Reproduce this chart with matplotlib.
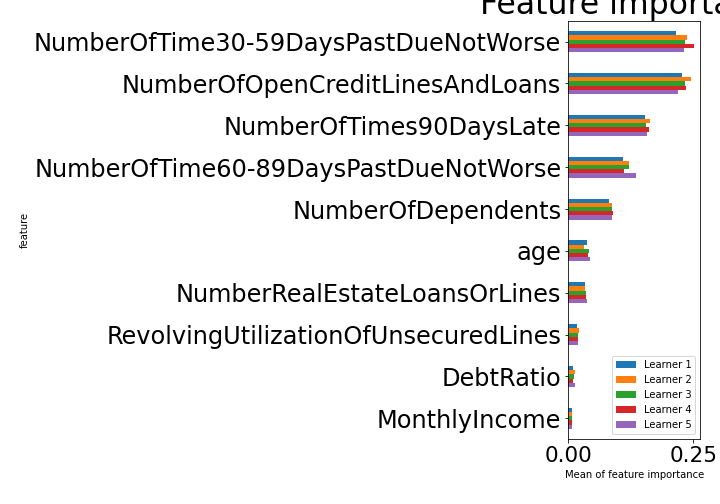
import matplotlib
matplotlib.use("Agg")
import matplotlib.pyplot as plt
import pandas as pd

features = ["NumberOfTime30-59DaysPastDueNotWorse", "NumberOfOpenCreditLinesAndLoans",
            "NumberOfTimes90DaysLate", "NumberOfTime60-89DaysPastDueNotWorse",
            "NumberOfDependents", "age", "NumberRealEstateLoansOrLines",
            "RevolvingUtilizationOfUnsecuredLines", "DebtRatio", "MonthlyIncome"]
learner1 = [0.215, 0.227, 0.153, 0.109, 0.081, 0.037, 0.033, 0.017, 0.009, 0.007]
learner2 = [0.237, 0.245, 0.163, 0.121, 0.087, 0.031, 0.033, 0.021, 0.013, 0.007]
learner3 = [0.233, 0.233, 0.155, 0.121, 0.087, 0.041, 0.035, 0.019, 0.011, 0.007]
learner4 = [0.251, 0.235, 0.161, 0.111, 0.089, 0.039, 0.035, 0.019, 0.009, 0.007]
learner5 = [0.231, 0.219, 0.157, 0.135, 0.087, 0.043, 0.037, 0.019, 0.013, 0.007]

df = pd.DataFrame({"Learner 1": learner1, "Learner 2": learner2, "Learner 3": learner3,
                   "Learner 4": learner4, "Learner 5": learner5}, index=features)
df.index.name = "feature"

fig = plt.figure(figsize=(10, 7), dpi=72)
ax = fig.add_axes([0.7893, 0.1284, 0.9727 - 0.7893, 0.959 - 0.1284])
df.plot.barh(ax=ax)
ax.invert_yaxis()
ax.set_xlim(0, 0.264)
ax.set_xticks([0.0, 0.25])
ax.set_xticklabels(["0.00", "0.25"])
ax.tick_params(axis="y", labelsize=24)
ax.tick_params(axis="x", labelsize=21.5)
ax.set_xlabel("Mean of feature importance", fontsize=10)
ax.set_ylabel("feature", fontsize=10)
ax.set_title("Feature importance", fontsize=31.5)
ax.legend(loc="lower right", fontsize=10)
fig.savefig("out.png", dpi=72)
